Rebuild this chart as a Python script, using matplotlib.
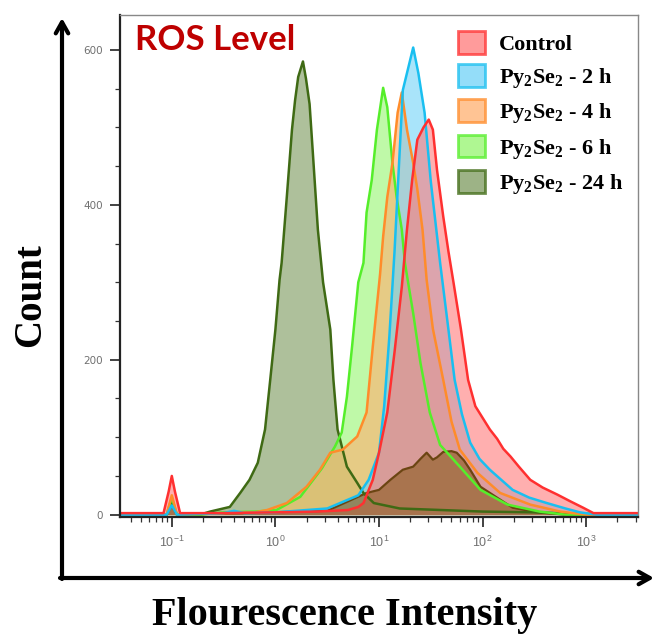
import numpy as np
import matplotlib
matplotlib.use("Agg")
import matplotlib.pyplot as plt
from matplotlib.patches import Patch
from matplotlib.ticker import MultipleLocator, LogLocator, FixedLocator, FixedFormatter, NullFormatter

plt.rcParams['mathtext.fontset'] = 'custom'
plt.rcParams['mathtext.rm'] = 'Liberation Serif:bold'
plt.rcParams['mathtext.it'] = 'Liberation Serif:bold'
plt.rcParams['mathtext.bf'] = 'Liberation Serif:bold'
plt.rcParams['mathtext.sf'] = 'Liberation Sans'

# histogram outlines: log10 intensity -> count
control_log = [-1.5, -1.08, -1.03, -1.0, -0.97, -0.92, -0.5, 0.0, 0.4, 0.7, 0.8, 0.85, 0.94, 1.0,
               1.08, 1.15, 1.22, 1.27, 1.32, 1.37, 1.43, 1.48, 1.52, 1.56, 1.62, 1.67, 1.72, 1.79,
               1.86, 1.93, 2.0, 2.07, 2.14, 2.2, 2.27, 2.35, 2.46, 2.58, 2.72, 2.85, 2.97, 3.07, 3.5]
control_cnt = [2, 2, 30, 50, 30, 2, 2, 3, 4, 6, 10, 15, 45, 80,
               132, 210, 294, 368, 432, 484, 500, 510, 497, 445, 385, 340, 299, 240,
               174, 140, 125, 110, 98, 85, 75, 62, 45, 35, 26, 17, 9, 2, 2]

h2_log = [-1.5, -1.05, -1.0, -0.95, -0.5, -0.4, -0.3, 0.0, 0.5, 0.8, 0.9, 1.0, 1.05, 1.1, 1.15,
          1.2, 1.23, 1.27, 1.33, 1.38, 1.44, 1.5, 1.59, 1.66, 1.73, 1.8, 1.88, 1.97, 2.07, 2.18,
          2.29, 2.45, 2.62, 2.8, 2.94, 3.1, 3.5]
h2_cnt = [0, 0, 12, 0, 2, 5, 2, 3, 8, 25, 45, 80, 140, 230, 340,
          470, 548, 570, 603, 570, 519, 430, 325, 250, 174, 130, 93, 72, 58, 45,
          32, 22, 15, 8, 3, 0, 0]

h4_log = [-1.5, -1.05, -1.0, -0.95, -0.5, -0.2, -0.08, 0.11, 0.3, 0.43, 0.53, 0.65, 0.79, 0.88,
          0.94, 1.01, 1.04, 1.08, 1.13, 1.18, 1.22, 1.27, 1.33, 1.37, 1.42, 1.46, 1.52, 1.62,
          1.7, 1.78, 1.95, 2.17, 2.46, 2.75, 3.0, 3.5]
h4_cnt = [0, 0, 25, 0, 2, 3, 6, 15, 36, 58, 80, 84, 101, 132,
          217, 310, 359, 410, 454, 519, 545, 497, 454, 420, 368, 303, 240, 174,
          120, 84, 54, 28, 13, 4, 0, 0]

h6_log = [-1.5, -1.05, -1.0, -0.95, -0.73, -0.5, -0.2, 0.01, 0.24, 0.45, 0.575, 0.64, 0.69, 0.74,
          0.8, 0.85, 0.88, 0.93, 0.98, 1.04, 1.08, 1.13, 1.17, 1.22, 1.25, 1.33, 1.4, 1.49,
          1.59, 1.78, 1.98, 2.24, 2.55, 2.8, 3.5]
h6_cnt = [0, 0, 22, 0, 0, 3, 4, 6, 23, 60, 88, 106, 152, 217,
          300, 325, 390, 432, 497, 551, 526, 454, 410, 368, 325, 260, 196, 132,
          90, 62, 32, 13, 4, 0, 0]

h24_log = [-1.5, -1.05, -1.0, -0.95, -0.73, -0.63, -0.44, -0.34, -0.25, -0.17, -0.1, -0.05, 0.0,
           0.04, 0.06, 0.11, 0.16, 0.19, 0.22, 0.266, 0.295, 0.33, 0.36, 0.41, 0.46, 0.53, 0.56,
           0.6, 0.69, 0.79, 0.85, 0.95, 1.2, 1.6, 2.0, 2.5, 3.0, 3.5]
h24_cnt = [0, 0, 15, 0, 0, 4, 10, 28, 45, 67, 110, 174, 239,
           303, 325, 410, 497, 535, 565, 585, 563, 530, 470, 368, 300, 239, 174,
           110, 62, 41, 28, 15, 8, 6, 4, 3, 1, 0]

# unlabelled low brown population
brown_log = [-1.5, -1.05, -1.0, -0.95, 0.5, 0.88, 1.0, 1.11, 1.23, 1.33, 1.4, 1.46, 1.52, 1.56,
             1.62, 1.7, 1.75, 1.82, 1.88, 1.98, 2.14, 2.29, 2.53, 2.8, 3.5]
brown_cnt = [0, 0, 12, 0, 5, 28, 32, 45, 58, 62, 72, 80, 71, 74,
             81, 82, 80, 70, 58, 36, 22, 9, 3, 0, 0]

labels = ['Control', 'Py$_2$Se$_2$ - 2 h', 'Py$_2$Se$_2$ - 4 h', 'Py$_2$Se$_2$ - 6 h', 'Py$_2$Se$_2$ - 24 h']
edge_colors = ['#ff3030', '#19bff0', '#ff8c2a', '#55ee2a', '#3f6a14']
fill_colors = ['#ff7a7a', '#70d2f7', '#ffb070', '#95f56e', '#7d9a5e']
fill_alpha = [0.6, 0.6, 0.62, 0.6, 0.62]

series = [(control_log, control_cnt), (h2_log, h2_cnt), (h4_log, h4_cnt),
          (h6_log, h6_cnt), (h24_log, h24_cnt)]

fig = plt.figure(figsize=(6.56, 6.38), dpi=100)
ax = fig.add_axes([120 / 656, 1 - 517 / 638, 518 / 656, 502 / 638])

order = [4, 3, 2, 1, 0]
for i in order:
    lg, cnt = series[i]
    x = 10 ** np.array(lg)
    ax.fill_between(x, 0, cnt, color=fill_colors[i], alpha=fill_alpha[i], lw=0)
bx = 10 ** np.array(brown_log)
ax.fill_between(bx, 0, brown_cnt, color='#8a5a1c', alpha=0.6, lw=0)
ax.plot(bx, brown_cnt, color='#6b4512', lw=1.6)
for i in order:
    lg, cnt = series[i]
    ax.plot(10 ** np.array(lg), cnt, color=edge_colors[i], lw=1.8)

ax.set_xscale('log')
ax.set_xlim(10 ** -1.5, 10 ** 3.5)
ax.set_ylim(-3, 645)

ax.xaxis.set_major_locator(FixedLocator([0.1, 1, 10, 100, 1000]))
ax.xaxis.set_major_formatter(FixedFormatter([r'$\mathsf{10^{-1}}$', r'$\mathsf{10^{0}}$',
                                             r'$\mathsf{10^{1}}$', r'$\mathsf{10^{2}}$',
                                             r'$\mathsf{10^{3}}$']))
ax.xaxis.set_minor_locator(LogLocator(base=10, subs=np.arange(2, 10)))
ax.xaxis.set_minor_formatter(NullFormatter())
ax.set_yticks([0, 200, 400, 600])
ax.yaxis.set_minor_locator(MultipleLocator(50))

ax.tick_params(which='major', length=7, width=1.2, color='#222222', labelsize=9,
               labelcolor='#707070')
ax.tick_params(axis='y', which='major', pad=5, labelsize=7.5)
ax.tick_params(axis='x', which='major', pad=6)
ax.tick_params(which='minor', length=3.5, width=0.9, color='#333333')

for s in ['top', 'right']:
    ax.spines[s].set_color('#888888')
    ax.spines[s].set_linewidth(1.0)
for s in ['left', 'bottom']:
    ax.spines[s].set_color('#222222')
    ax.spines[s].set_linewidth(1.6)

handles = [Patch(facecolor=fill_colors[i], edgecolor=edge_colors[i], linewidth=2, alpha=0.75)
           for i in range(5)]
leg = fig.legend(handles, labels, loc='upper left', bbox_to_anchor=(458 / 656, 1 - 31 / 638),
                 frameon=False, prop={'family': 'Liberation Serif', 'weight': 'bold', 'size': 16},
                 handlelength=1.2, handleheight=1.2, handletextpad=0.65, labelspacing=0.42,
                 borderaxespad=0, borderpad=0)

fig.text(135 / 656, 1 - 40 / 638, 'ROS Level', color='#be0000', fontsize=25,
         fontweight='bold', family='Lato', va='center', ha='left')

fig.text(31 / 656, 1 - 295 / 638, 'Count', rotation=90, fontsize=28, fontweight='bold',
         family='Liberation Serif', va='center', ha='center')
fig.text(345 / 656, 1 - 616 / 638, 'Flourescence Intensity', fontsize=29, fontweight='bold',
         family='Liberation Serif', va='center', ha='center')

# outer axis arrows
arrow = dict(arrowstyle='->,head_length=0.8,head_width=0.45', lw=3, color='black',
             shrinkA=0, shrinkB=0)
ax.annotate('', xy=(62 / 656, 1 - 18 / 638), xytext=(62 / 656, 1 - 579 / 638),
            xycoords='figure fraction', textcoords='figure fraction', arrowprops=arrow,
            annotation_clip=False)
ax.annotate('', xy=(654 / 656, 1 - 578 / 638), xytext=(60 / 656, 1 - 578 / 638),
            xycoords='figure fraction', textcoords='figure fraction', arrowprops=arrow,
            annotation_clip=False)

fig.savefig('out.png', dpi=100)
